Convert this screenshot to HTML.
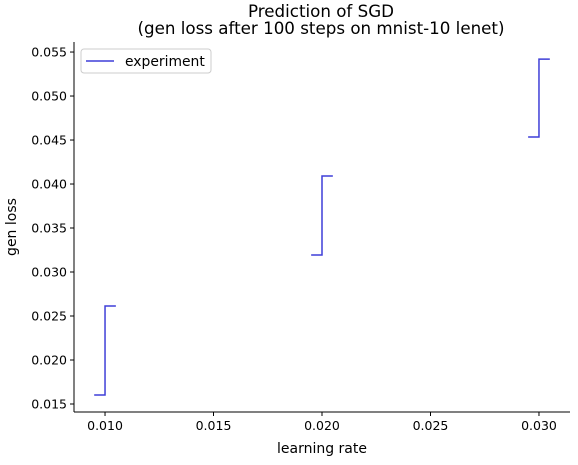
<!DOCTYPE html>
<html><head><meta charset="utf-8"><style>
body{margin:0;background:#fff;font-family:"Liberation Sans","DejaVu Sans",sans-serif;}
svg text{font-family:"DejaVu Sans","Liberation Sans",sans-serif;}
</style></head><body>
<svg id="chart" width="578" height="460" xmlns="http://www.w3.org/2000/svg">
<rect width="578" height="460" fill="#fff"/>
<text x="321" y="17" font-size="16.7" text-anchor="middle">Prediction of SGD</text>
<text x="321" y="34" font-size="16.7" text-anchor="middle">(gen loss after 100 steps on mnist-10 lenet)</text>
<g id="axes"></g>
<g id="series"></g>
<g>
<rect x="81" y="49" width="130" height="24" rx="3" fill="#fff" stroke="#ccc"/>
<line x1="86" y1="61" x2="114" y2="61" stroke="#3f3fd8" stroke-width="1.5"/>
<text x="125" y="66" font-size="13.9">experiment</text>
</g>
<text x="322" y="453" font-size="14" text-anchor="middle">learning rate</text>
<text transform="translate(16,227) rotate(-90)" font-size="14" text-anchor="middle">gen loss</text>
</svg>
<script>
const lrs=[0.010,0.020,0.030];
const lows=[0.01602,0.03193,0.04534];
const highs=[0.02614,0.04091,0.05420];
const xTicks=[0.010,0.015,0.020,0.025,0.030];
const yTicks=[0.015,0.020,0.025,0.030,0.035,0.040,0.045,0.050,0.055];
const L=74,R=570,T=42,B=412;
const xMin=0.00857,xMax=0.03143,yMin=0.01409,yMax=0.05614;
const xs=v=>L+(v-xMin)/(xMax-xMin)*(R-L);
const ys=v=>B-(v-yMin)/(yMax-yMin)*(B-T);
const NS="http://www.w3.org/2000/svg";
const ax=document.getElementById('axes'),se=document.getElementById('series');
function mk(p,tag,at){const e=document.createElementNS(NS,tag);for(const k in at)e.setAttribute(k,at[k]);p.appendChild(e);return e;}
let e=mk(ax,'line',{x1:L,y1:T,x2:L,y2:B,stroke:'#000','stroke-width':1});


e=mk(ax,'line',{x1:L,y1:B,x2:R,y2:B,stroke:'#000','stroke-width':1});


xTicks.forEach(v=>{const x=xs(v);
mk(ax,'line',{x1:x,y1:B,x2:x,y2:B+4,stroke:'#000'});
const t=mk(ax,'text',{x:x,y:B+18,'font-size':12.5,'text-anchor':'middle'});t.textContent=v.toFixed(3);

});
yTicks.forEach(v=>{const y=ys(v);
mk(ax,'line',{x1:L-4,y1:y,x2:L,y2:y,stroke:'#000'});
const t=mk(ax,'text',{x:L-7,y:y+4.5,'font-size':12.5,'text-anchor':'end'});t.textContent=v.toFixed(3);

});
const hw=0.0005;
lrs.forEach((lr,i)=>{
const d=`M${xs(lr-hw)},${ys(lows[i])}H${xs(lr)}V${ys(highs[i])}H${xs(lr+hw)}`;
const p=mk(se,'path',{d:d,fill:'none',stroke:'#3f3fd8','stroke-width':1.5});

});
</script>
</body></html>
